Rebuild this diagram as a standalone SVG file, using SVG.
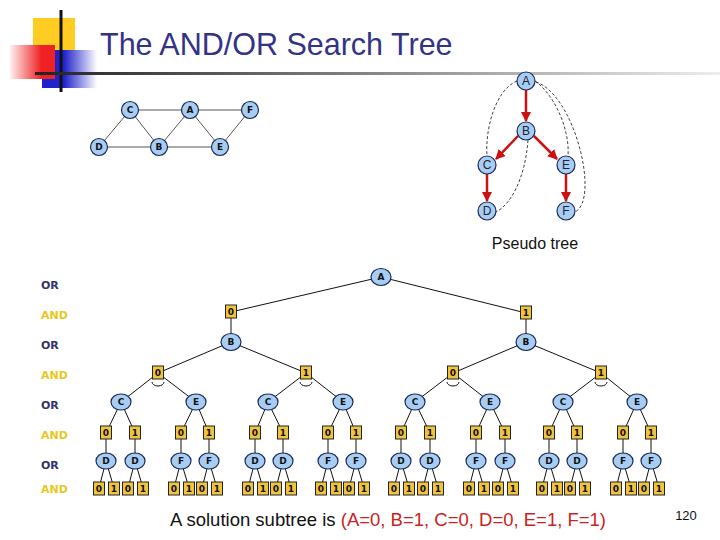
<svg xmlns="http://www.w3.org/2000/svg" width="720" height="540" viewBox="0 0 720 540">
<defs>
<linearGradient id="rg" x1="0" x2="1"><stop offset="0" stop-color="#fff0f0"/><stop offset="0.7" stop-color="#ee2222"/></linearGradient>
<linearGradient id="bg" x1="0" x2="1"><stop offset="0.4" stop-color="#2222cc"/><stop offset="1" stop-color="#ffffff"/></linearGradient>
<linearGradient id="lg" x1="0" x2="1"><stop offset="0" stop-color="#222"/><stop offset="1" stop-color="#eee"/></linearGradient>
<marker id="ar" viewBox="0 0 10 10" refX="9" refY="5" markerWidth="4" markerHeight="4" orient="auto"><path d="M0,0L10,5L0,10z" fill="#cc1111"/></marker>
</defs>
<style>
.or{fill:#a8cdf2;stroke:#1a2a5a;stroke-width:1.2}
.and{fill:#f0c43c;stroke:#222;stroke-width:1}
.t{font-family:Verdana,"DejaVu Sans",sans-serif;font-weight:bold;font-size:9px;text-anchor:middle;fill:#111}
.pt{font-family:"Liberation Sans",Arial,sans-serif;font-size:12px;text-anchor:middle;fill:#223}
.e{stroke:#111;stroke-width:1;fill:none}
.lo{font-family:"DejaVu Sans",sans-serif;font-weight:bold;font-size:11px;fill:#333366}
.la{font-family:"DejaVu Sans",sans-serif;font-weight:bold;font-size:11px;fill:#e8c820}
</style>
<rect width="720" height="540" fill="#fff"/>
<rect x="33" y="18" width="42" height="34" fill="#ffcc22"/>
<rect x="42" y="50" width="55" height="38" fill="url(#bg)"/>
<rect x="10" y="45" width="45" height="34" fill="url(#rg)"/>
<line x1="61" y1="10" x2="61" y2="92" stroke="#111" stroke-width="3"/>
<rect x="35" y="72" width="685" height="3" fill="url(#lg)"/>
<text x="100" y="55" font-family="'Liberation Sans',Arial,sans-serif" font-size="30.5" fill="#333388">The AND/OR Search Tree</text>

<g id="graph">
<g stroke="#555" stroke-width="1"><line x1="130" y1="110" x2="250" y2="110"/><line x1="99" y1="147" x2="220" y2="147"/><line x1="130" y1="110" x2="99" y2="147"/><line x1="130" y1="110" x2="159" y2="147"/><line x1="190" y1="110" x2="159" y2="147"/><line x1="190" y1="110" x2="220" y2="147"/><line x1="250" y1="110" x2="220" y2="147"/></g>
<g id="g-C"><circle cx="130" cy="110" r="8.5" class="or"/><text x="130" y="113" class="t">C</text></g>
<g id="g-A"><circle cx="190" cy="110" r="8.5" class="or"/><text x="190" y="113" class="t">A</text></g>
<g id="g-F"><circle cx="250" cy="110" r="8.5" class="or"/><text x="250" y="113" class="t">F</text></g>
<g id="g-D"><circle cx="99" cy="147" r="8.5" class="or"/><text x="99" y="150" class="t">D</text></g>
<g id="g-B"><circle cx="159" cy="147" r="8.5" class="or"/><text x="159" y="150" class="t">B</text></g>
<g id="g-E"><circle cx="220" cy="147" r="8.5" class="or"/><text x="220" y="150" class="t">E</text></g>
</g>

<g id="pseudo-edges">
<g stroke="#cc1111" stroke-width="2.5" marker-end="url(#ar)"><line x1="526" y1="90" x2="526" y2="121"/><line x1="518" y1="136" x2="496" y2="159"/><line x1="534" y1="136" x2="557" y2="159"/><line x1="487" y1="174" x2="487" y2="201"/><line x1="566" y1="174" x2="566" y2="201"/></g>
<g stroke="#111" stroke-width="0.8" stroke-dasharray="3,2" fill="none"><path d="M517,81 C495,90 485,130 487,156"/><path d="M535,81 C555,95 570,130 568,156"/><path d="M536,82 C575,95 600,200 575,212"/><path d="M528,140 C525,180 510,205 496,212"/></g>
</g>
<g id="pt-nodes">
<g><circle cx="526" cy="81" r="9" class="or"/><text x="526" y="85" class="pt">A</text></g>
<g><circle cx="526" cy="131" r="9" class="or"/><text x="526" y="135" class="pt">B</text></g>
<g><circle cx="487" cy="165" r="9" class="or"/><text x="487" y="169" class="pt">C</text></g>
<g><circle cx="566" cy="165" r="9" class="or"/><text x="566" y="169" class="pt">E</text></g>
<g><circle cx="487" cy="211" r="9" class="or"/><text x="487" y="215" class="pt">D</text></g>
<g><circle cx="566" cy="211" r="9" class="or"/><text x="566" y="215" class="pt">F</text></g>
</g>
<text x="535" y="249" font-family="'Liberation Sans',Arial,sans-serif" font-size="16" text-anchor="middle" fill="#111">Pseudo tree</text>

<g id="levels">
<text x="41" y="289" class="lo">OR</text><text x="41" y="319" class="la">AND</text>
<text x="41" y="349" class="lo">OR</text><text x="41" y="379" class="la">AND</text>
<text x="41" y="409" class="lo">OR</text><text x="41" y="439" class="la">AND</text>
<text x="41" y="469" class="lo">OR</text><text x="41" y="493" class="la">AND</text>
</g>

<g id="tree-edges" class="e">
<path class="e" d="M381,277L231,312M381,277L526,313M231,312V342M526,313V342M231,342L158,373M231,342L306,373M526,342L453,373M526,342L601,373
M158,373L121,402M158,373L196,402M306,373L268,402M306,373L343,402M453,373L415,402M453,373L490,402M601,373L563,402M601,373L637,402"/>
<path class="e" d="M152,382 A6,4 0 0 0 164,382M300,382 A6,4 0 0 0 312,382M447,382 A6,4 0 0 0 459,382M595,382 A6,4 0 0 0 607,382" stroke="#666"/>
<path class="e" d="M121,402L106,433M121,402L135,433M196,402L181,433M196,402L209,433M268,402L255,433M268,402L283,433M343,402L328,433M343,402L356,433M415,402L401,433M415,402L430,433M490,402L476,433M490,402L505,433M563,402L549,433M563,402L577,433M637,402L623,433M637,402L651,433
M106,433V461M135,433V461M181,433V461M209,433V461M255,433V461M283,433V461M328,433V461M356,433V461M401,433V461M430,433V461M476,433V461M505,433V461M549,433V461M577,433V461M623,433V461M651,433V461
M106,461L99,488M106,461L114,488M135,461L128,488M135,461L143,488M181,461L174,488M181,461L189,488M209,461L202,488M209,461L217,488M255,461L248,488M255,461L263,488M283,461L276,488M283,461L291,488M328,461L321,488M328,461L336,488M356,461L349,488M356,461L364,488M401,461L394,488M401,461L409,488M430,461L423,488M430,461L438,488M476,461L469,488M476,461L484,488M505,461L498,488M505,461L513,488M549,461L542,488M549,461L557,488M577,461L570,488M577,461L585,488M623,461L616,488M623,461L631,488M651,461L644,488M651,461L659,488"/>
</g>

<g id="tree-nodes">
<g id="nA"><ellipse cx="381" cy="277" rx="10" ry="8.5" class="or"/><text x="381" y="280" class="t">A</text></g>
<g id="a0"><rect x="225.5" y="305" width="11" height="13" class="and"/><text x="231" y="315" class="t">0</text></g>
<g id="a1"><rect x="520.5" y="306" width="11" height="13" class="and"/><text x="526" y="316" class="t">1</text></g>
<g id="b1"><ellipse cx="231" cy="342" rx="10" ry="8.5" class="or"/><text x="231" y="345" class="t">B</text></g>
<g id="b2"><ellipse cx="526" cy="342" rx="10" ry="8.5" class="or"/><text x="526" y="345" class="t">B</text></g>
<g id="l2"><rect x="152.5" y="366" width="11" height="13" class="and"/><text x="158" y="376" class="t">0</text>
<rect x="300.5" y="366" width="11" height="13" class="and"/><text x="306" y="376" class="t">1</text>
<rect x="447.5" y="366" width="11" height="13" class="and"/><text x="453" y="376" class="t">0</text>
<rect x="595.5" y="366" width="11" height="13" class="and"/><text x="601" y="376" class="t">1</text></g>
<g id="l3">
<ellipse cx="121" cy="402" rx="10" ry="8" class="or"/><text x="121" y="405" class="t">C</text>
<ellipse cx="196" cy="402" rx="10" ry="8" class="or"/><text x="196" y="405" class="t">E</text>
<ellipse cx="268" cy="402" rx="10" ry="8" class="or"/><text x="268" y="405" class="t">C</text>
<ellipse cx="343" cy="402" rx="10" ry="8" class="or"/><text x="343" y="405" class="t">E</text>
<ellipse cx="415" cy="402" rx="10" ry="8" class="or"/><text x="415" y="405" class="t">C</text>
<ellipse cx="490" cy="402" rx="10" ry="8" class="or"/><text x="490" y="405" class="t">E</text>
<ellipse cx="563" cy="402" rx="10" ry="8" class="or"/><text x="563" y="405" class="t">C</text>
<ellipse cx="637" cy="402" rx="10" ry="8" class="or"/><text x="637" y="405" class="t">E</text>
</g>
<g id="l4">
<rect x="100.5" y="426" width="11" height="13" class="and"/><text x="106" y="436" class="t">0</text>
<rect x="129.5" y="426" width="11" height="13" class="and"/><text x="135" y="436" class="t">1</text>
<rect x="175.5" y="426" width="11" height="13" class="and"/><text x="181" y="436" class="t">0</text>
<rect x="203.5" y="426" width="11" height="13" class="and"/><text x="209" y="436" class="t">1</text>
<rect x="249.5" y="426" width="11" height="13" class="and"/><text x="255" y="436" class="t">0</text>
<rect x="277.5" y="426" width="11" height="13" class="and"/><text x="283" y="436" class="t">1</text>
<rect x="322.5" y="426" width="11" height="13" class="and"/><text x="328" y="436" class="t">0</text>
<rect x="350.5" y="426" width="11" height="13" class="and"/><text x="356" y="436" class="t">1</text>
<rect x="395.5" y="426" width="11" height="13" class="and"/><text x="401" y="436" class="t">0</text>
<rect x="424.5" y="426" width="11" height="13" class="and"/><text x="430" y="436" class="t">1</text>
<rect x="470.5" y="426" width="11" height="13" class="and"/><text x="476" y="436" class="t">0</text>
<rect x="499.5" y="426" width="11" height="13" class="and"/><text x="505" y="436" class="t">1</text>
<rect x="543.5" y="426" width="11" height="13" class="and"/><text x="549" y="436" class="t">0</text>
<rect x="571.5" y="426" width="11" height="13" class="and"/><text x="577" y="436" class="t">1</text>
<rect x="617.5" y="426" width="11" height="13" class="and"/><text x="623" y="436" class="t">0</text>
<rect x="645.5" y="426" width="11" height="13" class="and"/><text x="651" y="436" class="t">1</text>
</g>
<g id="l5">
<ellipse cx="106" cy="461" rx="10" ry="8" class="or"/><text x="106" y="464" class="t">D</text>
<ellipse cx="135" cy="461" rx="10" ry="8" class="or"/><text x="135" y="464" class="t">D</text>
<ellipse cx="181" cy="461" rx="10" ry="8" class="or"/><text x="181" y="464" class="t">F</text>
<ellipse cx="209" cy="461" rx="10" ry="8" class="or"/><text x="209" y="464" class="t">F</text>
<ellipse cx="255" cy="461" rx="10" ry="8" class="or"/><text x="255" y="464" class="t">D</text>
<ellipse cx="283" cy="461" rx="10" ry="8" class="or"/><text x="283" y="464" class="t">D</text>
<ellipse cx="328" cy="461" rx="10" ry="8" class="or"/><text x="328" y="464" class="t">F</text>
<ellipse cx="356" cy="461" rx="10" ry="8" class="or"/><text x="356" y="464" class="t">F</text>
<ellipse cx="401" cy="461" rx="10" ry="8" class="or"/><text x="401" y="464" class="t">D</text>
<ellipse cx="430" cy="461" rx="10" ry="8" class="or"/><text x="430" y="464" class="t">D</text>
<ellipse cx="476" cy="461" rx="10" ry="8" class="or"/><text x="476" y="464" class="t">F</text>
<ellipse cx="505" cy="461" rx="10" ry="8" class="or"/><text x="505" y="464" class="t">F</text>
<ellipse cx="549" cy="461" rx="10" ry="8" class="or"/><text x="549" y="464" class="t">D</text>
<ellipse cx="577" cy="461" rx="10" ry="8" class="or"/><text x="577" y="464" class="t">D</text>
<ellipse cx="623" cy="461" rx="10" ry="8" class="or"/><text x="623" y="464" class="t">F</text>
<ellipse cx="651" cy="461" rx="10" ry="8" class="or"/><text x="651" y="464" class="t">F</text>
</g>
<g id="l6">
<rect x="93.5" y="482" width="11" height="13" class="and"/><text x="99" y="492" class="t">0</text>
<rect x="108.5" y="482" width="11" height="13" class="and"/><text x="114" y="492" class="t">1</text>
<rect x="122.5" y="482" width="11" height="13" class="and"/><text x="128" y="492" class="t">0</text>
<rect x="137.5" y="482" width="11" height="13" class="and"/><text x="143" y="492" class="t">1</text>
<rect x="168.5" y="482" width="11" height="13" class="and"/><text x="174" y="492" class="t">0</text>
<rect x="183.5" y="482" width="11" height="13" class="and"/><text x="189" y="492" class="t">1</text>
<rect x="196.5" y="482" width="11" height="13" class="and"/><text x="202" y="492" class="t">0</text>
<rect x="211.5" y="482" width="11" height="13" class="and"/><text x="217" y="492" class="t">1</text>
<rect x="242.5" y="482" width="11" height="13" class="and"/><text x="248" y="492" class="t">0</text>
<rect x="257.5" y="482" width="11" height="13" class="and"/><text x="263" y="492" class="t">1</text>
<rect x="270.5" y="482" width="11" height="13" class="and"/><text x="276" y="492" class="t">0</text>
<rect x="285.5" y="482" width="11" height="13" class="and"/><text x="291" y="492" class="t">1</text>
<rect x="315.5" y="482" width="11" height="13" class="and"/><text x="321" y="492" class="t">0</text>
<rect x="330.5" y="482" width="11" height="13" class="and"/><text x="336" y="492" class="t">1</text>
<rect x="343.5" y="482" width="11" height="13" class="and"/><text x="349" y="492" class="t">0</text>
<rect x="358.5" y="482" width="11" height="13" class="and"/><text x="364" y="492" class="t">1</text>
<rect x="388.5" y="482" width="11" height="13" class="and"/><text x="394" y="492" class="t">0</text>
<rect x="403.5" y="482" width="11" height="13" class="and"/><text x="409" y="492" class="t">1</text>
<rect x="417.5" y="482" width="11" height="13" class="and"/><text x="423" y="492" class="t">0</text>
<rect x="432.5" y="482" width="11" height="13" class="and"/><text x="438" y="492" class="t">1</text>
<rect x="463.5" y="482" width="11" height="13" class="and"/><text x="469" y="492" class="t">0</text>
<rect x="478.5" y="482" width="11" height="13" class="and"/><text x="484" y="492" class="t">1</text>
<rect x="492.5" y="482" width="11" height="13" class="and"/><text x="498" y="492" class="t">0</text>
<rect x="507.5" y="482" width="11" height="13" class="and"/><text x="513" y="492" class="t">1</text>
<rect x="536.5" y="482" width="11" height="13" class="and"/><text x="542" y="492" class="t">0</text>
<rect x="551.5" y="482" width="11" height="13" class="and"/><text x="557" y="492" class="t">1</text>
<rect x="564.5" y="482" width="11" height="13" class="and"/><text x="570" y="492" class="t">0</text>
<rect x="579.5" y="482" width="11" height="13" class="and"/><text x="585" y="492" class="t">1</text>
<rect x="610.5" y="482" width="11" height="13" class="and"/><text x="616" y="492" class="t">0</text>
<rect x="625.5" y="482" width="11" height="13" class="and"/><text x="631" y="492" class="t">1</text>
<rect x="638.5" y="482" width="11" height="13" class="and"/><text x="644" y="492" class="t">0</text>
<rect x="653.5" y="482" width="11" height="13" class="and"/><text x="659" y="492" class="t">1</text>
</g>
</g>
<text x="170" y="526" font-family="'Liberation Sans',Arial,sans-serif" font-size="18.5" fill="#111">A solution subtree is <tspan fill="#cc2222">(A=0, B=1, C=0, D=0, E=1, F=1)</tspan></text>
<text x="686" y="520" font-family="'Liberation Sans',Arial,sans-serif" font-size="13" text-anchor="middle" fill="#111">120</text>
</svg>
